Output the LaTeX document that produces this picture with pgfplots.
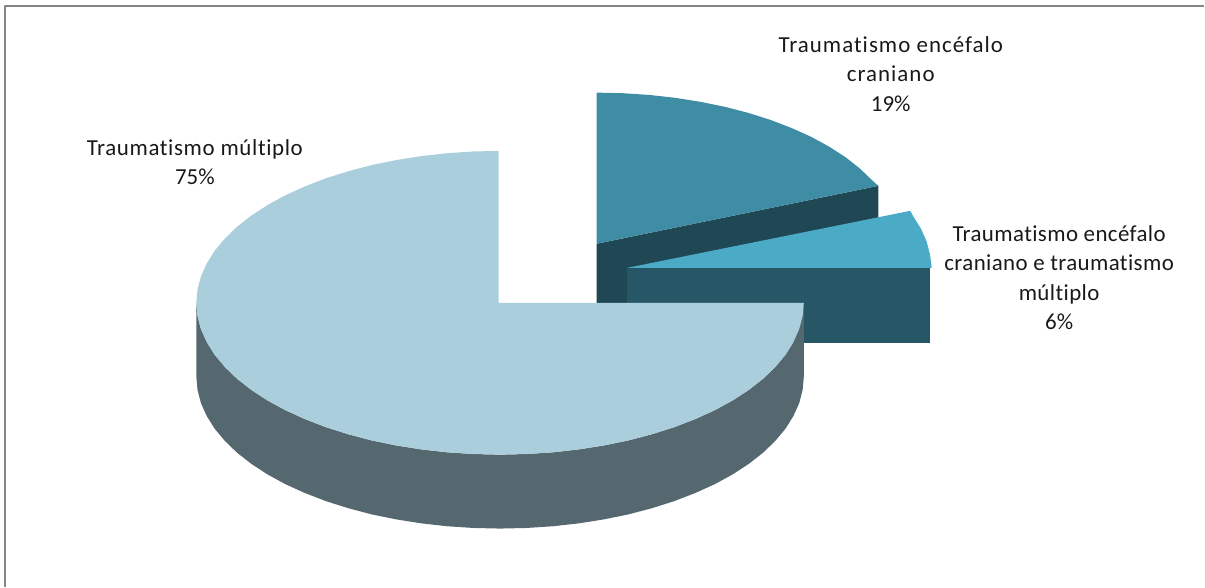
\documentclass[border=0pt]{standalone}
\usepackage{pgfplots}
\pgfplotsset{compat=1.18}
\usepackage{fontspec}
\setmainfont[Ligatures=NoCommon]{Carlito}
\newfontfamily\plainfigs{Carlito}
\definecolor{tcetop}{HTML}{3E8DA5}
\definecolor{tcewall}{HTML}{204854}
\definecolor{mixtop}{HTML}{4BAAC6}
\definecolor{mixwall}{HTML}{275766}
\definecolor{multop}{HTML}{AACEDC}
\definecolor{mulwall}{HTML}{56686F}
\definecolor{frame}{HTML}{858585}
\begin{document}
\begin{tikzpicture}
\begin{axis}[
  scale only axis, width=1205bp, height=587bp,
  xmin=0, xmax=1205, ymin=0, ymax=587,
  y dir=reverse, hide axis, clip=false,
  every axis plot/.append style={no marks, line join=round},
]
% Page corners, so the empty margins stay part of the picture
\path (axis cs:0,0) coordinate (pagetl) (axis cs:1205,587) coordinate (pagebr);

% Outer frame: only the top and left sides show
\addplot[draw=frame, line width=2bp] coordinates {(5.5,587) (5.5,6.5) (1205,6.5)};

% Traumatismo encefalo craniano, 19%
\addplot[fill=tcewall, draw=none] coordinates {(597,244) (879,186) (879,260) (597,318)} -- cycle;
\addplot[fill=tcetop, draw=none] coordinates {
  (597,244) (597,92.7) (623.5,93.3) (649.8,95) (675.7,97.9) (701,101.9) (725.5,106.9)
  (749,113) (771.4,120.1) (792.4,128.2) (812,137) (829.9,146.8) (846,157.2)
  (860.3,168.4) (872.5,180.1) (879,186)} -- cycle;

% Traumatismo encefalo craniano e traumatismo multiplo, 6%
\addplot[fill=mixwall, draw=none] coordinates {(628,268) (931,268) (931,343) (628,343)} -- cycle;
\addplot[fill=mixtop, draw=none] coordinates {
  (628,268) (911,211) (913.7,216) (921.6,228.7) (927.4,241.6) (930.8,254.8) (932.5,268)} -- cycle;

% Traumatismo multiplo, 75%
\addplot[fill=mulwall, draw=none] coordinates {
  (196.5,303) (197.7,316.3) (201.1,329.4) (206.9,342.3) (214.8,355) (225,367.2) (237.2,379)
  (251.5,390.2) (267.6,400.7) (285.5,410.5) (305.1,419.4) (326.1,427.5) (348.5,434.6)
  (372,440.8) (396.5,445.8) (421.8,449.8) (447.7,452.7) (474,454.4) (500.5,455)
  (527,454.4) (553.3,452.7) (579.2,449.8) (604.5,445.8) (629,440.8) (652.5,434.6)
  (674.9,427.5) (695.9,419.4) (715.5,410.5) (733.4,400.7) (749.5,390.2) (763.8,379)
  (776,367.2) (786.2,355) (794.1,342.3) (799.9,329.4) (803.3,316.3) (804.5,303)
  (804.5,377) (803.3,390.3) (799.9,403.4) (794.1,416.3) (786.2,429) (776,441.2) (763.8,453)
  (749.5,464.2) (733.4,474.7) (715.5,484.5) (695.9,493.4) (674.9,501.5) (652.5,508.6)
  (629,514.8) (604.5,519.8) (579.2,523.8) (553.3,526.7) (527,528.4) (500.5,529)
  (474,528.4) (447.7,526.7) (421.8,523.8) (396.5,519.8) (372,514.8) (348.5,508.6)
  (326.1,501.5) (305.1,493.4) (285.5,484.5) (267.6,474.7) (251.5,464.2) (237.2,453)
  (225,441.2) (214.8,429) (206.9,416.3) (201.1,403.4) (197.7,390.3) (196.5,377)} -- cycle;
\addplot[fill=multop, draw=none] coordinates {
  (499,303) (499,151) (474,151.6) (447.7,153.3) (421.8,156.2) (396.5,160.2) (372,165.2)
  (348.5,171.4) (326.1,178.5) (305.1,186.6) (285.5,195.5) (267.6,205.3) (251.5,215.8)
  (237.2,227) (225,238.8) (214.8,251) (206.9,263.7) (201.1,276.6) (197.7,289.7) (196.5,303)
  (197.7,316.3) (201.1,329.4) (206.9,342.3) (214.8,355) (225,367.2) (237.2,379)
  (251.5,390.2) (267.6,400.7) (285.5,410.5) (305.1,419.4) (326.1,427.5) (348.5,434.6)
  (372,440.8) (396.5,445.8) (421.8,449.8) (447.7,452.7) (474,454.4) (500.5,455)
  (527,454.4) (553.3,452.7) (579.2,449.8) (604.5,445.8) (629,440.8) (652.5,434.6)
  (674.9,427.5) (695.9,419.4) (715.5,410.5) (733.4,400.7) (749.5,390.2) (763.8,379)
  (776,367.2) (786.2,355) (794.1,342.3) (799.9,329.4) (803.3,316.3) (804.5,303)} -- cycle;

% Slice labels; the argument is the tracking of the label's words
\tikzset{slicelabel/.style={align=center, inner sep=0pt, text=black!90,
  font=\fontsize{23}{29.5}\selectfont\addfontfeature{LetterSpace=#1}}}
\node[slicelabel=4.5] at (axis cs:891.5,74) {Traumatismo encéfalo\\craniano\\{\plainfigs 19\%}};
\node[slicelabel=1.8] at (axis cs:1060,278) {Traumatismo encéfalo\\craniano e traumatismo\\múltiplo\\{\plainfigs 6\%}};
\node[slicelabel=2.8] at (axis cs:195,162) {Traumatismo múltiplo\\{\plainfigs 75\%}};
\end{axis}
\path (pagetl) -- (pagebr);
\end{tikzpicture}
\end{document}
